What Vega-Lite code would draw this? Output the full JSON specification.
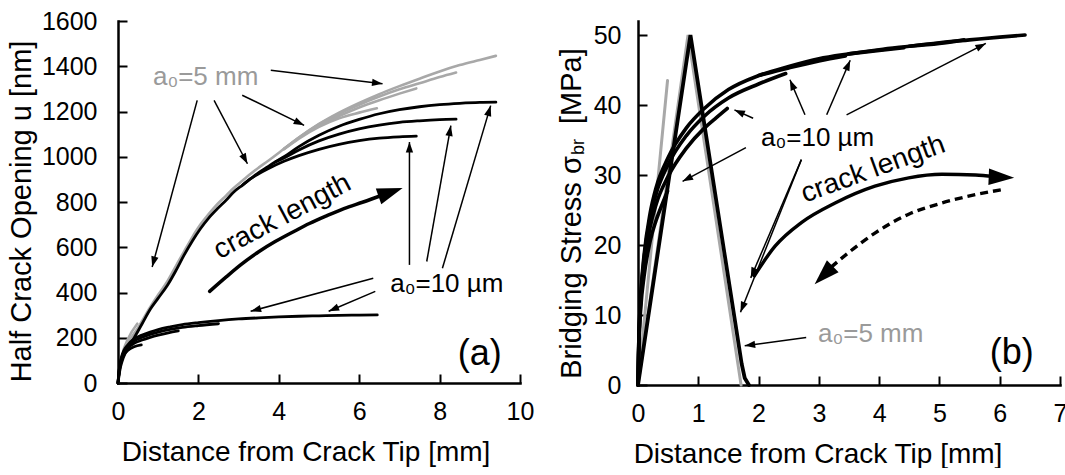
{
"$schema": "https://vega.github.io/schema/vega-lite/v6.json",
"background": "white",
"padding": {"left": 7, "top": 9, "right": 0, "bottom": 0},
"bounds": "flush",
"spacing": 118,
"config": {
  "view": {"stroke": null},
  "font": "Liberation Sans",
  "axis": {"grid": false, "domainColor": "black", "domainWidth": 2.5, "tickColor": "black", "tickWidth": 2, "tickSize": -9, "labelFontSize": 25, "labelColor": "black", "labelFont": "Liberation Sans", "titleFont": "Liberation Sans", "titleFontSize": 28, "titleFontWeight": "normal", "titleColor": "black", "labelFlush": false, "labelOverlap": false, "domainCap": "square", "format": "d"},
  "axisX": {"titlePadding": 14, "labelPadding": 25},
  "axisY": {"titleFontSize": 29, "labelPadding": 30}
},
"datasets": {
  "lg": [
    {"s":"G1","x":0,"y":0},{"s":"G1","x":0.05,"y":70},{"s":"G1","x":0.15,"y":140},{"s":"G1","x":0.3,"y":190},{"s":"G1","x":0.5,"y":245},{"s":"G1","x":0.8,"y":335},{"s":"G1","x":1.0,"y":390},{"s":"G1","x":1.23,"y":450},{"s":"G1","x":1.45,"y":520},{"s":"G1","x":1.64,"y":580},{"s":"G1","x":1.85,"y":645},{"s":"G1","x":2.05,"y":700},{"s":"G1","x":2.25,"y":745},{"s":"G1","x":2.47,"y":790},{"s":"G1","x":2.7,"y":830},{"s":"G1","x":2.88,"y":862},{"s":"G1","x":3.1,"y":895},{"s":"G1","x":3.3,"y":925},{"s":"G1","x":3.5,"y":952},{"s":"G1","x":3.72,"y":980},{"s":"G1","x":4.13,"y":1035},{"s":"G1","x":4.5,"y":1085},{"s":"G1","x":5.0,"y":1145},{"s":"G1","x":5.5,"y":1195},{"s":"G1","x":6.0,"y":1238},{"s":"G1","x":6.5,"y":1277},{"s":"G1","x":7.0,"y":1312},{"s":"G1","x":7.5,"y":1345},{"s":"G1","x":8.0,"y":1377},{"s":"G1","x":8.5,"y":1405},{"s":"G1","x":9.0,"y":1428},{"s":"G1","x":9.4,"y":1446},
    {"s":"G2","x":4.13,"y":1035},{"s":"G2","x":4.5,"y":1085},{"s":"G2","x":5.0,"y":1143},{"s":"G2","x":5.5,"y":1190},{"s":"G2","x":6.0,"y":1230},{"s":"G2","x":6.5,"y":1266},{"s":"G2","x":7.0,"y":1298},{"s":"G2","x":7.5,"y":1325},{"s":"G2","x":8.0,"y":1352},{"s":"G2","x":8.41,"y":1372},
    {"s":"G3","x":4.13,"y":1035},{"s":"G3","x":4.5,"y":1083},{"s":"G3","x":5.0,"y":1138},{"s":"G3","x":5.5,"y":1180},{"s":"G3","x":6.0,"y":1218},{"s":"G3","x":6.5,"y":1250},{"s":"G3","x":7.0,"y":1279},{"s":"G3","x":7.42,"y":1302},
    {"s":"G4","x":4.13,"y":1033},{"s":"G4","x":4.5,"y":1080},{"s":"G4","x":5.0,"y":1132},{"s":"G4","x":5.5,"y":1170},{"s":"G4","x":6.0,"y":1195},{"s":"G4","x":6.44,"y":1214},
    {"s":"G5","x":0,"y":0},{"s":"G5","x":0.1,"y":120},{"s":"G5","x":0.25,"y":195},{"s":"G5","x":0.48,"y":262}
  ],
  "lb": [
    {"s":"A","x":0,"y":0},{"s":"A","x":0.05,"y":60},{"s":"A","x":0.1,"y":95},{"s":"A","x":0.2,"y":140},{"s":"A","x":0.39,"y":196},{"s":"A","x":0.6,"y":262},{"s":"A","x":0.81,"y":328},{"s":"A","x":1.0,"y":375},{"s":"A","x":1.23,"y":432},{"s":"A","x":1.45,"y":500},{"s":"A","x":1.64,"y":564},{"s":"A","x":1.85,"y":628},{"s":"A","x":2.05,"y":682},{"s":"A","x":2.25,"y":728},{"s":"A","x":2.47,"y":770},{"s":"A","x":2.7,"y":810},{"s":"A","x":2.88,"y":844},{"s":"A","x":3.1,"y":875},{"s":"A","x":3.3,"y":903},{"s":"A","x":3.5,"y":930},{"s":"A","x":3.72,"y":955},{"s":"A","x":3.92,"y":978},{"s":"A","x":4.13,"y":1000},{"s":"A","x":4.5,"y":1045},{"s":"A","x":5.0,"y":1095},{"s":"A","x":5.5,"y":1135},{"s":"A","x":6.0,"y":1165},{"s":"A","x":6.5,"y":1190},{"s":"A","x":7.0,"y":1208},{"s":"A","x":7.5,"y":1221},{"s":"A","x":8.0,"y":1230},{"s":"A","x":8.5,"y":1236},{"s":"A","x":9.0,"y":1240},{"s":"A","x":9.4,"y":1241},
    {"s":"B","x":3.92,"y":978},{"s":"B","x":4.13,"y":995},{"s":"B","x":4.5,"y":1030},{"s":"B","x":5.0,"y":1070},{"s":"B","x":5.5,"y":1100},{"s":"B","x":6.0,"y":1123},{"s":"B","x":6.5,"y":1140},{"s":"B","x":7.0,"y":1152},{"s":"B","x":7.5,"y":1159},{"s":"B","x":8.0,"y":1164},{"s":"B","x":8.41,"y":1166},
    {"s":"C","x":3.1,"y":875},{"s":"C","x":3.3,"y":903},{"s":"C","x":3.5,"y":925},{"s":"C","x":3.72,"y":946},{"s":"C","x":4.13,"y":980},{"s":"C","x":4.5,"y":1005},{"s":"C","x":5.0,"y":1033},{"s":"C","x":5.5,"y":1055},{"s":"C","x":6.0,"y":1071},{"s":"C","x":6.5,"y":1082},{"s":"C","x":7.0,"y":1088},{"s":"C","x":7.42,"y":1091},
    {"s":"L4","x":0,"y":0},{"s":"L4","x":0.03,"y":60},{"s":"L4","x":0.08,"y":110},{"s":"L4","x":0.15,"y":145},{"s":"L4","x":0.25,"y":170},{"s":"L4","x":0.4,"y":195},{"s":"L4","x":0.6,"y":212},{"s":"L4","x":0.8,"y":225},{"s":"L4","x":1.0,"y":236},{"s":"L4","x":1.3,"y":248},{"s":"L4","x":1.6,"y":258},{"s":"L4","x":2.0,"y":267},{"s":"L4","x":2.5,"y":276},{"s":"L4","x":3.0,"y":283},{"s":"L4","x":3.5,"y":288},{"s":"L4","x":4.0,"y":292},{"s":"L4","x":4.5,"y":295},{"s":"L4","x":5.0,"y":297},{"s":"L4","x":5.5,"y":299},{"s":"L4","x":6.0,"y":300},{"s":"L4","x":6.45,"y":301},
    {"s":"L3","x":0,"y":0},{"s":"L3","x":0.03,"y":58},{"s":"L3","x":0.08,"y":105},{"s":"L3","x":0.15,"y":140},{"s":"L3","x":0.25,"y":163},{"s":"L3","x":0.4,"y":185},{"s":"L3","x":0.6,"y":202},{"s":"L3","x":0.8,"y":215},{"s":"L3","x":1.0,"y":225},{"s":"L3","x":1.3,"y":237},{"s":"L3","x":1.6,"y":246},{"s":"L3","x":2.0,"y":254},{"s":"L3","x":2.5,"y":262},
    {"s":"L2","x":0,"y":0},{"s":"L2","x":0.03,"y":55},{"s":"L2","x":0.08,"y":100},{"s":"L2","x":0.15,"y":135},{"s":"L2","x":0.25,"y":155},{"s":"L2","x":0.4,"y":175},{"s":"L2","x":0.6,"y":190},{"s":"L2","x":0.8,"y":202},{"s":"L2","x":1.0,"y":212},{"s":"L2","x":1.25,"y":222},{"s":"L2","x":1.5,"y":230},
    {"s":"L1","x":0,"y":0},{"s":"L1","x":0.03,"y":50},{"s":"L1","x":0.08,"y":95},{"s":"L1","x":0.15,"y":125},{"s":"L1","x":0.25,"y":145},{"s":"L1","x":0.4,"y":160},{"s":"L1","x":0.58,"y":168}
  ],
  "lc": [
    {"x":2.28,"y":405},{"x":2.7,"y":470},{"x":3.05,"y":522},{"x":3.5,"y":580},{"x":3.91,"y":625},{"x":4.4,"y":672},{"x":4.76,"y":705},{"x":5.2,"y":740},{"x":5.62,"y":771},{"x":6.1,"y":800},{"x":6.6,"y":832}
  ],
  "lh": [{"x":6.5,"y":826,"hx":7.08,"hy":862}],
  "la": [
    {"x":1.97,"y":1249,"hx":0.85,"hy":513},
    {"x":2.39,"y":1249,"hx":3.22,"hy":969},
    {"x":3.09,"y":1272,"hx":4.63,"hy":1139},
    {"x":3.8,"y":1382,"hx":6.58,"hy":1323},
    {"x":6.35,"y":463,"hx":3.3,"hy":317},
    {"x":6.4,"y":405,"hx":5.24,"hy":317},
    {"x":7.25,"y":522,"hx":7.25,"hy":1065},
    {"x":7.68,"y":537,"hx":8.28,"hy":1138},
    {"x":8.07,"y":507,"hx":9.27,"hy":1226}
  ],
  "rb": [
    {"s":"E","x":0,"y":0},{"s":"E","x":0.01,"y":5},{"s":"E","x":0.02,"y":8},{"s":"E","x":0.05,"y":13.5},{"s":"E","x":0.1,"y":18.5},{"s":"E","x":0.2,"y":24.5},{"s":"E","x":0.3,"y":28.2},{"s":"E","x":0.5,"y":32.5},{"s":"E","x":0.8,"y":36.7},{"s":"E","x":1.1,"y":39.5},{"s":"E","x":1.5,"y":42.2},{"s":"E","x":2.0,"y":44.2},{"s":"E","x":2.5,"y":45.5},{"s":"E","x":3.0,"y":46.6},{"s":"E","x":3.5,"y":47.3},{"s":"E","x":4.0,"y":47.9},{"s":"E","x":4.5,"y":48.4},{"s":"E","x":5.0,"y":48.9},{"s":"E","x":5.5,"y":49.3},{"s":"E","x":6.0,"y":49.7},{"s":"E","x":6.42,"y":50.0},
    {"s":"R5","x":4.5,"y":48.4},{"s":"R5","x":5.0,"y":48.8},{"s":"R5","x":5.41,"y":49.3},
    {"s":"R4","x":3.5,"y":47.3},{"s":"R4","x":4.0,"y":47.8},{"s":"R4","x":4.41,"y":48.2},
    {"s":"R3","x":2.0,"y":44.2},{"s":"R3","x":2.5,"y":45.3},{"s":"R3","x":3.0,"y":46.3},{"s":"R3","x":3.44,"y":47.0},
    {"s":"R2","x":0,"y":0},{"s":"R2","x":0.01,"y":5},{"s":"R2","x":0.02,"y":8},{"s":"R2","x":0.05,"y":13},{"s":"R2","x":0.1,"y":18},{"s":"R2","x":0.2,"y":23.8},{"s":"R2","x":0.3,"y":27.3},{"s":"R2","x":0.5,"y":31.5},{"s":"R2","x":0.8,"y":35.6},{"s":"R2","x":1.1,"y":38.4},{"s":"R2","x":1.5,"y":41.0},{"s":"R2","x":2.0,"y":43.0},{"s":"R2","x":2.45,"y":44.5},
    {"s":"R1","x":0,"y":0},{"s":"R1","x":0.01,"y":4.5},{"s":"R1","x":0.02,"y":7.5},{"s":"R1","x":0.05,"y":12.5},{"s":"R1","x":0.1,"y":17},{"s":"R1","x":0.2,"y":22.5},{"s":"R1","x":0.3,"y":25.8},{"s":"R1","x":0.5,"y":29.8},{"s":"R1","x":0.8,"y":33.8},{"s":"R1","x":1.1,"y":36.7},{"s":"R1","x":1.3,"y":38.2},{"s":"R1","x":1.48,"y":39.5},
    {"s":"R0","x":0,"y":0},{"s":"R0","x":0.01,"y":4},{"s":"R0","x":0.02,"y":7},{"s":"R0","x":0.05,"y":11.5},{"s":"R0","x":0.1,"y":15.5},{"s":"R0","x":0.2,"y":20.5},{"s":"R0","x":0.3,"y":23.5},{"s":"R0","x":0.4,"y":25.8},{"s":"R0","x":0.49,"y":27.7}
  ],
  "rtg": [
    {"s":"T","x":0,"y":0},{"s":"T","x":0.83,"y":50},{"s":"T","x":1.71,"y":0},
    {"s":"S","x":0,"y":0},{"s":"S","x":0.49,"y":43.5}
  ],
  "rtb": [
    {"x":0,"y":0},{"x":0.87,"y":50},{"x":1.72,"y":3},{"x":1.77,"y":1},{"x":1.84,"y":0}
  ],
  "rc": [
    {"x":1.93,"y":15.6},{"x":2.27,"y":19.8},{"x":2.71,"y":23.2},{"x":3.27,"y":26.0},{"x":3.93,"y":28.4},{"x":4.49,"y":29.6},{"x":5.04,"y":30.1},{"x":5.6,"y":30.0},{"x":5.9,"y":29.8}
  ],
  "rd": [
    {"x":6.1,"y":28.0},{"x":5.6,"y":27.2},{"x":5.04,"y":26.0},{"x":4.49,"y":24.4},{"x":3.93,"y":21.7},{"x":3.49,"y":18.9},{"x":3.2,"y":16.8}
  ],
  "rh": [
    {"x":5.82,"y":29.75,"hx":6.24,"hy":29.6},
    {"x":3.27,"y":17.3,"hx":2.93,"hy":14.4}
  ],
  "ra": [
    {"x":1.91,"y":38.1,"hx":1.6,"hy":39.3},
    {"x":1.79,"y":33.9,"hx":0.74,"hy":29.1},
    {"x":2.77,"y":38.6,"hx":2.52,"hy":43.6},
    {"x":3.13,"y":38.6,"hx":3.52,"hy":46.4},
    {"x":3.46,"y":38.6,"hx":5.77,"hy":48.8},
    {"x":2.71,"y":32.2,"hx":1.87,"hy":15.3},
    {"x":2.71,"y":32.2,"hx":1.7,"hy":10.4},
    {"x":2.79,"y":6.8,"hx":1.77,"hy":5.6}
  ]
},
"hconcat": [
{
  "width": 402, "height": 362,
  "layer": [
    {"data": {"name": "lg"}, "mark": {"type": "line", "interpolate": "monotone", "strokeWidth": 2.6, "color": "#a8a8a8", "strokeCap": "round"},
     "encoding": {
       "x": {"field": "x", "type": "quantitative", "scale": {"domain": [0, 10], "nice": false}, "axis": {"values": [0, 2, 4, 6, 8, 10], "titleX": 187.5}, "title": "Distance from Crack Tip [mm]"},
       "y": {"field": "y", "type": "quantitative", "scale": {"domain": [0, 1600], "nice": false}, "axis": {"values": [0, 200, 400, 600, 800, 1000, 1200, 1400, 1600], "titleX": -81.5, "titleY": 190}, "title": "Half Crack Opening u [nm]"},
       "detail": {"field": "s"}}},
    {"data": {"name": "lb"}, "mark": {"type": "line", "interpolate": "monotone", "strokeWidth": 2.8, "color": "black", "strokeCap": "round"},
     "encoding": {
       "x": {"field": "x", "type": "quantitative", "scale": {"domain": [0, 10], "nice": false}, "title": "Distance from Crack Tip [mm]"},
       "y": {"field": "y", "type": "quantitative", "scale": {"domain": [0, 1600], "nice": false}, "title": "Half Crack Opening u [nm]"},
       "detail": {"field": "s"}}},
    {"data": {"name": "lc"}, "mark": {"type": "line", "interpolate": "monotone", "strokeWidth": 3.5, "color": "black", "strokeCap": "round"},
     "encoding": {
       "x": {"field": "x", "type": "quantitative", "scale": {"domain": [0, 10], "nice": false}, "title": "Distance from Crack Tip [mm]"},
       "y": {"field": "y", "type": "quantitative", "scale": {"domain": [0, 1600], "nice": false}, "title": "Half Crack Opening u [nm]"}}},
    {"data": {"name": "la"}, "mark": {"type": "rule", "strokeWidth": 1.5, "color": "black"},
     "encoding": {
       "x": {"field": "x", "type": "quantitative", "scale": {"domain": [0, 10], "nice": false}, "title": "Distance from Crack Tip [mm]"},
       "y": {"field": "y", "type": "quantitative", "scale": {"domain": [0, 1600], "nice": false}, "title": "Half Crack Opening u [nm]"},
       "x2": {"field": "hx"}, "y2": {"field": "hy"}}},
    {"data": {"name": "la"}, "transform": [{"calculate": "atan2(-(datum.hy-datum.y)*0.22625,(datum.hx-datum.x)*40.2)*180/PI", "as": "ang"}],
     "mark": {"type": "point", "filled": true, "shape": "M0,0L-2,-0.7L-2,0.7Z", "size": 110, "color": "black", "opacity": 1, "strokeWidth": 0},
     "encoding": {
       "x": {"field": "hx", "type": "quantitative", "scale": {"domain": [0, 10], "nice": false}, "title": "Distance from Crack Tip [mm]"},
       "y": {"field": "hy", "type": "quantitative", "scale": {"domain": [0, 1600], "nice": false}, "title": "Half Crack Opening u [nm]"},
       "angle": {"field": "ang", "type": "quantitative", "scale": null}}},
    {"data": {"name": "lh"}, "transform": [{"calculate": "atan2(-(datum.hy-datum.y)*0.22625,(datum.hx-datum.x)*40.2)*180/PI", "as": "ang"}],
     "mark": {"type": "point", "filled": true, "shape": "M0,0L-2,-0.65L-2,0.65Z", "size": 650, "color": "black", "opacity": 1, "strokeWidth": 0},
     "encoding": {
       "x": {"field": "hx", "type": "quantitative", "scale": {"domain": [0, 10], "nice": false}, "title": "Distance from Crack Tip [mm]"},
       "y": {"field": "hy", "type": "quantitative", "scale": {"domain": [0, 1600], "nice": false}, "title": "Half Crack Opening u [nm]"},
       "angle": {"field": "ang", "type": "quantitative", "scale": null}}},
    {"data": {"values": [{"x": 2.18, "y": 1316, "t": "a₀=5 mm"}]},
     "mark": {"type": "text", "fontSize": 26, "color": "#9a9a9a", "align": "center", "baseline": "alphabetic"},
     "encoding": {
       "x": {"field": "x", "type": "quantitative", "scale": {"domain": [0, 10], "nice": false}, "title": "Distance from Crack Tip [mm]"},
       "y": {"field": "y", "type": "quantitative", "scale": {"domain": [0, 1600], "nice": false}, "title": "Half Crack Opening u [nm]"},
       "text": {"field": "t"}}},
    {"data": {"values": [{"x": 8.18, "y": 402, "t": "a₀=10 µm"}]},
     "mark": {"type": "text", "fontSize": 26, "color": "black", "align": "center", "baseline": "alphabetic"},
     "encoding": {
       "x": {"field": "x", "type": "quantitative", "scale": {"domain": [0, 10], "nice": false}, "title": "Distance from Crack Tip [mm]"},
       "y": {"field": "y", "type": "quantitative", "scale": {"domain": [0, 1600], "nice": false}, "title": "Half Crack Opening u [nm]"},
       "text": {"field": "t"}}},
    {"data": {"values": [{"x": 4.09, "y": 734, "t": "crack length"}]},
     "mark": {"type": "text", "fontSize": 28, "color": "black", "align": "center", "baseline": "middle", "angle": 332},
     "encoding": {
       "x": {"field": "x", "type": "quantitative", "scale": {"domain": [0, 10], "nice": false}, "title": "Distance from Crack Tip [mm]"},
       "y": {"field": "y", "type": "quantitative", "scale": {"domain": [0, 1600], "nice": false}, "title": "Half Crack Opening u [nm]"},
       "text": {"field": "t"}}},
    {"data": {"values": [{"x": 9.0, "y": 130, "t": "(a)"}]},
     "mark": {"type": "text", "fontSize": 36, "color": "black", "align": "center", "baseline": "middle"},
     "encoding": {
       "x": {"field": "x", "type": "quantitative", "scale": {"domain": [0, 10], "nice": false}, "title": "Distance from Crack Tip [mm]"},
       "y": {"field": "y", "type": "quantitative", "scale": {"domain": [0, 1600], "nice": false}, "title": "Half Crack Opening u [nm]"},
       "text": {"field": "t"}}}
  ]
},
{
  "width": 422, "height": 364,
  "layer": [
    {"data": {"name": "rtg"}, "mark": {"type": "line", "strokeWidth": 3, "color": "#a8a8a8", "strokeCap": "round"},
     "encoding": {
       "x": {"field": "x", "type": "quantitative", "scale": {"domain": [0, 7], "nice": false}, "axis": {"values": [0, 1, 2, 3, 4, 5, 6, 7], "titleX": 179.5}, "title": "Distance from Crack Tip [mm]"},
       "y": {"field": "y", "type": "quantitative", "scale": {"domain": [0, 52], "nice": false}, "axis": {"values": [0, 10, 20, 30, 40, 50], "labelPadding": 26, "titleX": -52, "titleY": 192}, "title": "Bridging Stress σ\u00a0\u00a0\u00a0 [MPa]"},
       "detail": {"field": "s"}, "order": {"field": "x"}}},
    {"data": {"name": "rtb"}, "mark": {"type": "line", "strokeWidth": 3.8, "color": "black", "strokeCap": "round"},
     "encoding": {
       "x": {"field": "x", "type": "quantitative", "scale": {"domain": [0, 7], "nice": false}, "title": "Distance from Crack Tip [mm]"},
       "y": {"field": "y", "type": "quantitative", "scale": {"domain": [0, 52], "nice": false}, "title": "Bridging Stress σ\u00a0\u00a0\u00a0 [MPa]"}}},
    {"data": {"name": "rb"}, "mark": {"type": "line", "interpolate": "monotone", "strokeWidth": 3.6, "color": "black", "strokeCap": "round"},
     "encoding": {
       "x": {"field": "x", "type": "quantitative", "scale": {"domain": [0, 7], "nice": false}, "title": "Distance from Crack Tip [mm]"},
       "y": {"field": "y", "type": "quantitative", "scale": {"domain": [0, 52], "nice": false}, "title": "Bridging Stress σ\u00a0\u00a0\u00a0 [MPa]"},
       "detail": {"field": "s"}}},
    {"data": {"name": "rc"}, "mark": {"type": "line", "interpolate": "monotone", "strokeWidth": 3.4, "color": "black", "strokeCap": "round"},
     "encoding": {
       "x": {"field": "x", "type": "quantitative", "scale": {"domain": [0, 7], "nice": false}, "title": "Distance from Crack Tip [mm]"},
       "y": {"field": "y", "type": "quantitative", "scale": {"domain": [0, 52], "nice": false}, "title": "Bridging Stress σ\u00a0\u00a0\u00a0 [MPa]"}}},
    {"data": {"name": "rd"}, "mark": {"type": "line", "interpolate": "monotone", "strokeWidth": 3.4, "color": "black", "strokeDash": [8, 5]},
     "encoding": {
       "x": {"field": "x", "type": "quantitative", "scale": {"domain": [0, 7], "nice": false}, "title": "Distance from Crack Tip [mm]"},
       "y": {"field": "y", "type": "quantitative", "scale": {"domain": [0, 52], "nice": false}, "title": "Bridging Stress σ\u00a0\u00a0\u00a0 [MPa]"}}},
    {"data": {"name": "ra"}, "mark": {"type": "rule", "strokeWidth": 1.5, "color": "black"},
     "encoding": {
       "x": {"field": "x", "type": "quantitative", "scale": {"domain": [0, 7], "nice": false}, "title": "Distance from Crack Tip [mm]"},
       "y": {"field": "y", "type": "quantitative", "scale": {"domain": [0, 52], "nice": false}, "title": "Bridging Stress σ\u00a0\u00a0\u00a0 [MPa]"},
       "x2": {"field": "hx"}, "y2": {"field": "hy"}}},
    {"data": {"name": "ra"}, "transform": [{"calculate": "atan2(-(datum.hy-datum.y)*7.0,(datum.hx-datum.x)*60.286)*180/PI", "as": "ang"}],
     "mark": {"type": "point", "filled": true, "shape": "M0,0L-2,-0.7L-2,0.7Z", "size": 110, "color": "black", "opacity": 1, "strokeWidth": 0},
     "encoding": {
       "x": {"field": "hx", "type": "quantitative", "scale": {"domain": [0, 7], "nice": false}, "title": "Distance from Crack Tip [mm]"},
       "y": {"field": "hy", "type": "quantitative", "scale": {"domain": [0, 52], "nice": false}, "title": "Bridging Stress σ\u00a0\u00a0\u00a0 [MPa]"},
       "angle": {"field": "ang", "type": "quantitative", "scale": null}}},
    {"data": {"name": "rh"}, "transform": [{"calculate": "atan2(-(datum.hy-datum.y)*7.0,(datum.hx-datum.x)*60.286)*180/PI", "as": "ang"}],
     "mark": {"type": "point", "filled": true, "shape": "M0,0L-2,-0.65L-2,0.65Z", "size": 650, "color": "black", "opacity": 1, "strokeWidth": 0},
     "encoding": {
       "x": {"field": "hx", "type": "quantitative", "scale": {"domain": [0, 7], "nice": false}, "title": "Distance from Crack Tip [mm]"},
       "y": {"field": "hy", "type": "quantitative", "scale": {"domain": [0, 52], "nice": false}, "title": "Bridging Stress σ\u00a0\u00a0\u00a0 [MPa]"},
       "angle": {"field": "ang", "type": "quantitative", "scale": null}}},
    {"data": {"values": [{"x": 2.98, "y": 34.1, "t": "a₀=10 µm"}]},
     "mark": {"type": "text", "fontSize": 26, "color": "black", "align": "center", "baseline": "alphabetic"},
     "encoding": {
       "x": {"field": "x", "type": "quantitative", "scale": {"domain": [0, 7], "nice": false}, "title": "Distance from Crack Tip [mm]"},
       "y": {"field": "y", "type": "quantitative", "scale": {"domain": [0, 52], "nice": false}, "title": "Bridging Stress σ\u00a0\u00a0\u00a0 [MPa]"},
       "text": {"field": "t"}}},
    {"data": {"values": [{"x": 3.86, "y": 6.1, "t": "a₀=5 mm"}]},
     "mark": {"type": "text", "fontSize": 26, "color": "#9a9a9a", "align": "center", "baseline": "alphabetic"},
     "encoding": {
       "x": {"field": "x", "type": "quantitative", "scale": {"domain": [0, 7], "nice": false}, "title": "Distance from Crack Tip [mm]"},
       "y": {"field": "y", "type": "quantitative", "scale": {"domain": [0, 52], "nice": false}, "title": "Bridging Stress σ\u00a0\u00a0\u00a0 [MPa]"},
       "text": {"field": "t"}}},
    {"data": {"values": [{"x": 3.9, "y": 30.8, "t": "crack length"}]},
     "mark": {"type": "text", "fontSize": 28, "color": "black", "align": "center", "baseline": "middle", "angle": 340},
     "encoding": {
       "x": {"field": "x", "type": "quantitative", "scale": {"domain": [0, 7], "nice": false}, "title": "Distance from Crack Tip [mm]"},
       "y": {"field": "y", "type": "quantitative", "scale": {"domain": [0, 52], "nice": false}, "title": "Bridging Stress σ\u00a0\u00a0\u00a0 [MPa]"},
       "text": {"field": "t"}}},
    {"data": {"values": [{"x": 6.2, "y": 4.6, "t": "(b)"}]},
     "mark": {"type": "text", "fontSize": 36, "color": "black", "align": "center", "baseline": "middle"},
     "encoding": {
       "x": {"field": "x", "type": "quantitative", "scale": {"domain": [0, 7], "nice": false}, "title": "Distance from Crack Tip [mm]"},
       "y": {"field": "y", "type": "quantitative", "scale": {"domain": [0, 52], "nice": false}, "title": "Bridging Stress σ\u00a0\u00a0\u00a0 [MPa]"},
       "text": {"field": "t"}}},
    {"data": {"values": [{"x": -0.98, "y": 34.0, "t": "br"}]},
     "mark": {"type": "text", "fontSize": 18, "color": "black", "align": "center", "baseline": "middle", "angle": 270},
     "encoding": {
       "x": {"field": "x", "type": "quantitative", "scale": {"domain": [0, 7], "nice": false}, "title": "Distance from Crack Tip [mm]"},
       "y": {"field": "y", "type": "quantitative", "scale": {"domain": [0, 52], "nice": false}, "title": "Bridging Stress σ\u00a0\u00a0\u00a0 [MPa]"},
       "text": {"field": "t"}}}
  ]
}
]
}
